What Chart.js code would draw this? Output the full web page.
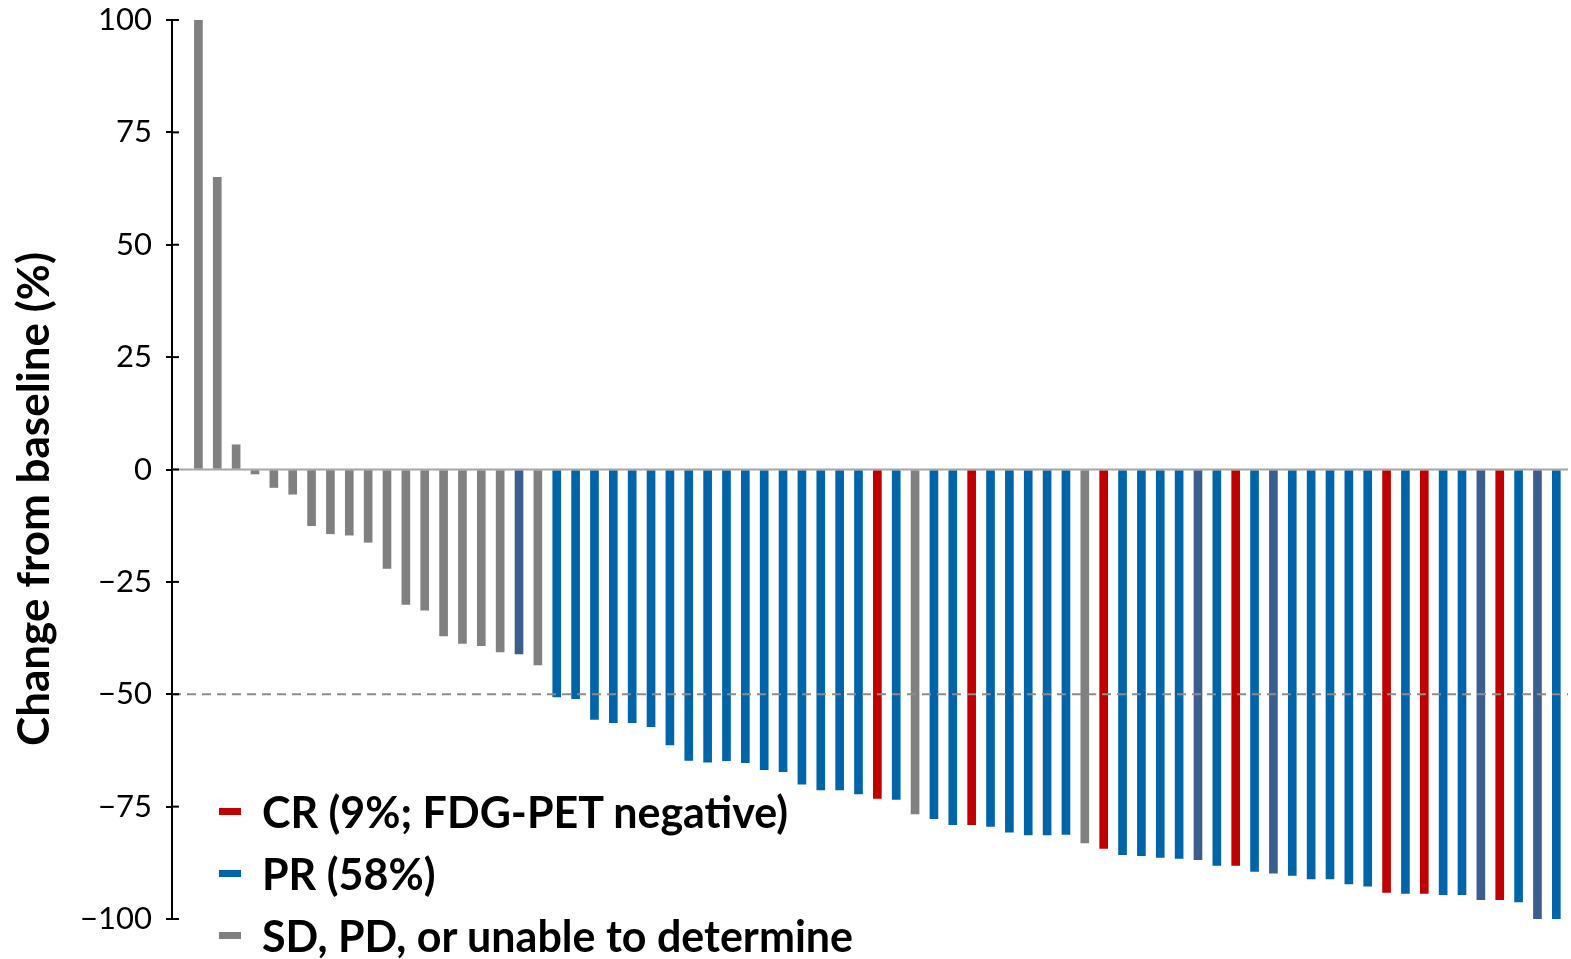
<!DOCTYPE html>
<html>
<head>
<meta charset="utf-8">
<script src="https://cdn.jsdelivr.net/npm/chart.js@4.4.1/dist/chart.umd.min.js"></script>
<style>
    body { margin: 0; background: #fff; }
    #wrap { position: relative; width: 1571px; height: 959px; }
    #legend { position: absolute; left: 219px; top: 0; font: bold 43px Lato, sans-serif; color: #000; }
    .item { position: absolute; left: 0; height: 62px; display: flex; align-items: center; white-space: nowrap; }
    .swatch { width: 22px; height: 7px; margin-right: 21px; flex: none; }
</style>
</head>
<body>
<div id="wrap">
    <canvas id="chartWaterfall"></canvas>
    <div id="legend"></div>
</div>
<script>
// best change from baseline per patient, sorted
var changeValues = [
    100, 65, 5.5, -1, -4, -5.5, -12.5, -14.3, -14.6, -16.2,
    -22, -30, -31.3, -37, -38.7, -39.2, -40.6, -41, -43.5, -50.6,
    -51, -55.6, -56.3, -56.3, -57.2, -61.3, -64.7, -65.1, -64.8, -65.2,
    -66.8, -67.2, -70, -71.3, -71.3, -72.2, -73.2, -73.4, -76.6, -77.7,
    -79, -79, -79.4, -80.7, -81.3, -81.3, -81.2, -83.1, -84.3, -85.7,
    -85.9, -86.3, -86.5, -86.8, -88.1, -88.1, -89.4, -89.8, -90.3, -91.1,
    -91.1, -92.2, -92.7, -94.1, -94.3, -94.3, -94.6, -94.6, -95.7, -95.7,
    -96.2, -100, -100
];
// response per bar: CR, PR, PR2 (darker blue), SD
var responseCodes = [
    'SD', 'SD', 'SD', 'SD', 'SD', 'SD', 'SD', 'SD', 'SD', 'SD',
    'SD', 'SD', 'SD', 'SD', 'SD', 'SD', 'SD', 'PR2', 'SD', 'PR',
    'PR', 'PR', 'PR', 'PR', 'PR', 'PR', 'PR', 'PR', 'PR', 'PR',
    'PR', 'PR', 'PR', 'PR', 'PR', 'PR', 'CR', 'PR', 'SD', 'PR',
    'PR', 'CR', 'PR', 'PR', 'PR', 'PR', 'PR', 'SD', 'CR', 'PR',
    'PR', 'PR', 'PR', 'PR2', 'PR', 'CR', 'PR', 'PR2', 'PR', 'PR',
    'PR', 'PR', 'PR', 'CR', 'PR', 'CR', 'PR', 'PR', 'PR2', 'CR',
    'PR', 'PR2', 'PR'
];
var yTicks = [100, 75, 50, 25, 0, -25, -50, -75, -100];
var legendLabels = ['CR (9%; FDG-PET negative)', 'PR (58%)', 'SD, PD, or unable to determine'];
var legendCodes = ['CR', 'PR', 'SD'];
var axisTitle = 'Change from baseline (%)';

var colors = { CR: '#c00000', PR: '#0064a8', PR2: '#3a5f8f', SD: '#808080' };

var legendDiv = document.getElementById('legend');
legendLabels.forEach(function (label, i) {
    var item = document.createElement('div');
    item.className = 'item';
    item.style.top = (780 + i * 62) + 'px';
    item.innerHTML = '<span class="swatch" style="background:' + colors[legendCodes[i]] + '"></span>' + label;
    legendDiv.appendChild(item);
});

var refLines = {
    id: 'refLines',
    afterDatasetsDraw: function (chart) {
        var ctx = chart.ctx;
        var area = chart.chartArea;
        var y = chart.scales.y;
        ctx.save();
        ctx.lineWidth = 2;
        ctx.strokeStyle = '#a6a6a6';
        ctx.beginPath();
        ctx.moveTo(area.left, y.getPixelForValue(0));
        ctx.lineTo(area.right, y.getPixelForValue(0));
        ctx.stroke();
        ctx.strokeStyle = '#8c8c8c';
        ctx.setLineDash([9, 6]);
        ctx.beginPath();
        ctx.moveTo(area.left, y.getPixelForValue(-50));
        ctx.lineTo(area.right, y.getPixelForValue(-50));
        ctx.stroke();
        ctx.setLineDash([]);
        // tick marks cross the axis
        ctx.strokeStyle = '#000';
        yTicks.forEach(function (t) {
            var py = y.getPixelForValue(t);
            ctx.beginPath();
            ctx.moveTo(area.left, py);
            ctx.lineTo(area.left + 7, py);
            ctx.stroke();
        });
        // axis title
        ctx.translate(35, 499);
        ctx.rotate(-Math.PI / 2);
        ctx.font = 'bold 44px Lato, sans-serif';
        ctx.fillStyle = '#000';
        ctx.textAlign = 'center';
        ctx.textBaseline = 'middle';
        ctx.fillText(axisTitle, 0, 0);
        ctx.restore();
    }
};

new Chart(document.getElementById('chartWaterfall'), {
    type: 'bar',
    data: {
        datasets: [{
            label: 'Change from baseline',
            data: changeValues.map(function (v, i) { return { x: i + 1, y: v }; }),
            backgroundColor: responseCodes.map(function (c) { return colors[c]; }),
            borderWidth: 0,
            barThickness: 8
        }]
    },
    options: {
        responsive: true,
        maintainAspectRatio: false,
        animation: false,
        layout: { padding: { left: 0, right: 3, top: 20, bottom: 40 } },
        plugins: { legend: { display: false }, tooltip: { enabled: false } },
        scales: {
            x: { type: 'linear', display: false, offset: false, grid: { offset: false }, min: -0.4, max: 73.62 },
            y: {
                min: -100,
                max: 100,
                afterBuildTicks: function (scale) {
                    scale.ticks = yTicks.map(function (v) { return { value: v }; });
                },
                afterFit: function (scale) {
                    scale.width = 172;
                    scale.paddingTop = 0;
                    scale.paddingBottom = 0;
                },
                ticks: {
                    color: '#000',
                    padding: 14,
                    font: { family: 'Lato', size: 31 },
                    callback: function (v) { return String(v).replace('-', '\u2212'); }
                },
                grid: { drawOnChartArea: false, color: '#000', lineWidth: 2, tickLength: 6 },
                border: { color: '#000', width: 2 }
            }
        }
    },
    plugins: [refLines]
});
</script>
</body>
</html>
